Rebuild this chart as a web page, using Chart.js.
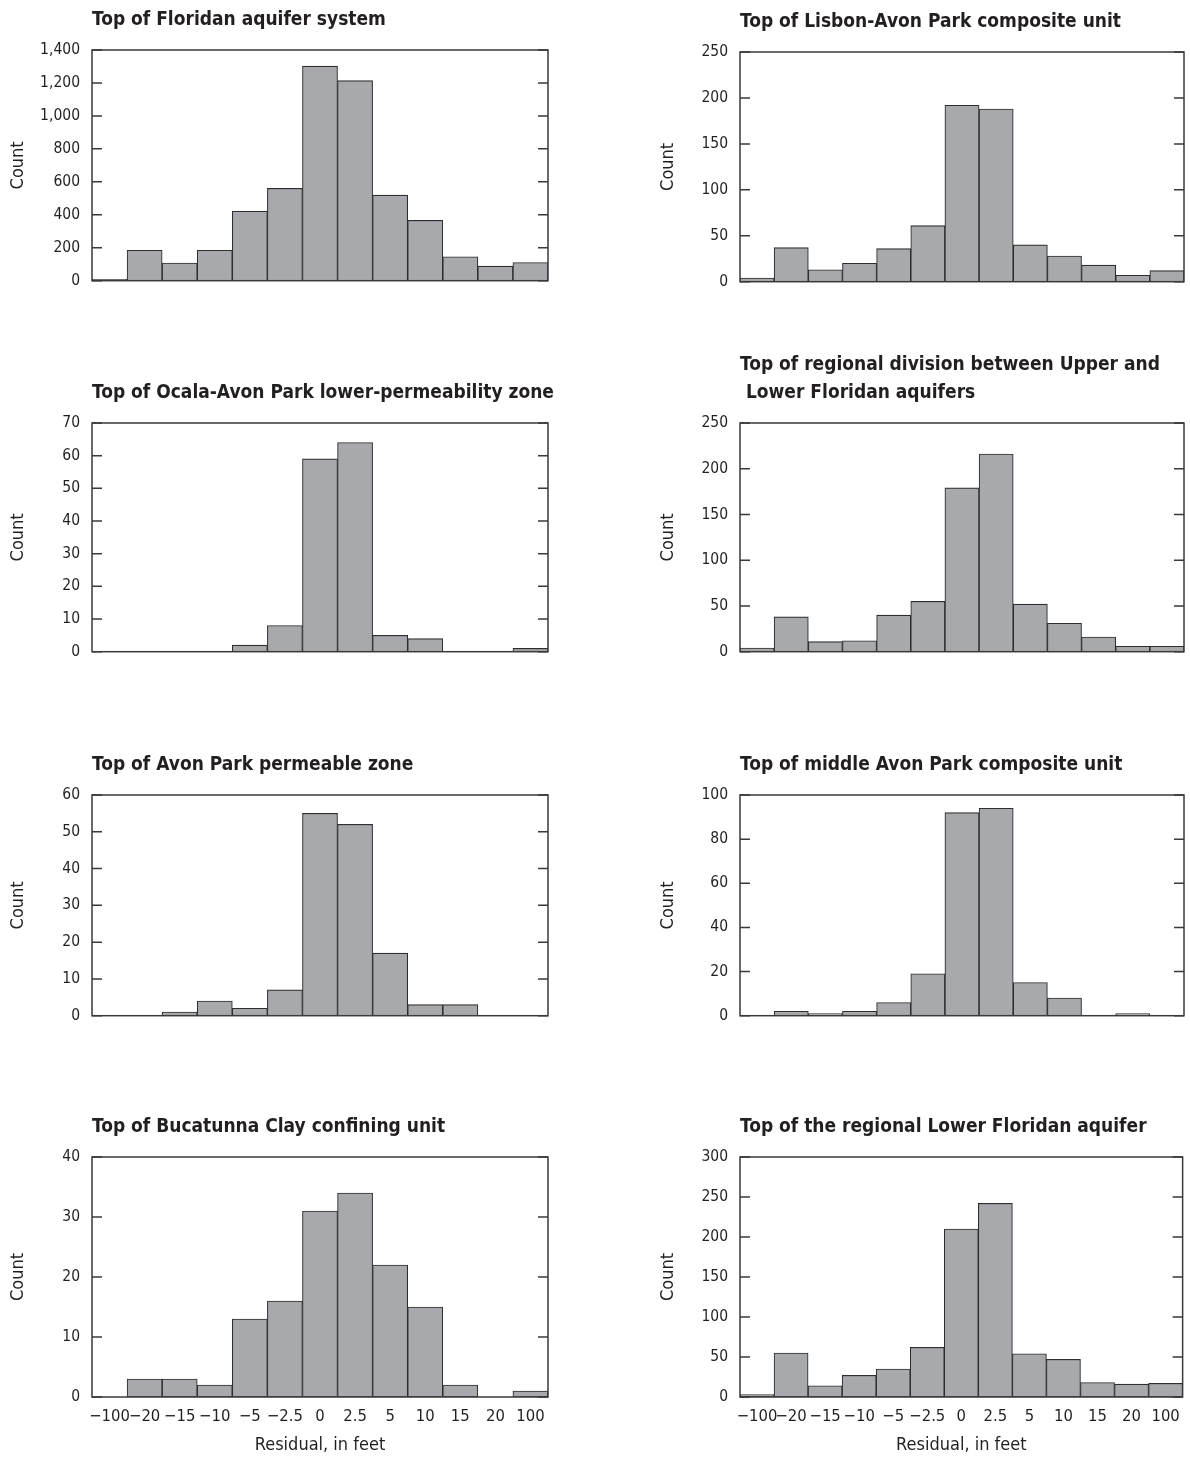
<!DOCTYPE html>
<html lang="en">
<head>
  <meta charset="UTF-8" />
  <title>Residual histograms</title>
  <script src="https://cdn.jsdelivr.net/npm/chart.js"></script>
  <style>
    body { margin: 0; background: #fff; }
    #page { position: relative; width: 1190px; height: 1458px; overflow: hidden; }
    canvas { position: absolute; }
  </style>
</head>
<body>
  <div id="page"></div>

  <script>
    // bin labels (residual, in feet)
    const binLabels = ['\u2212100', '\u221220', '\u221215', '\u221210', '\u22125', '\u22122.5', '0', '2.5', '5', '10', '15', '20', '100'];

    // counts per bin
    const floridanTop        = [8, 185, 107, 185, 421, 560, 1302, 1214, 519, 366, 145, 88, 110];
    const lisbonAvonPark     = [4, 37, 13, 20, 36, 61, 192, 188, 40, 28, 18, 7, 12];
    const ocalaAvonPark      = [0, 0, 0, 0, 2, 8, 59, 64, 5, 4, 0, 0, 1];
    const upperLowerDivision = [4, 38, 11, 12, 40, 55, 179, 216, 52, 31, 16, 6, 6];
    const avonParkPermeable  = [0, 0, 1, 4, 2, 7, 55, 52, 17, 3, 3, 0, 0];
    const middleAvonPark     = [0, 2, 1, 2, 6, 19, 92, 94, 15, 8, 0, 1, 0];
    const bucatunnaClay      = [0, 3, 3, 2, 13, 16, 31, 34, 22, 15, 2, 0, 1];
    const lowerFloridan      = [3, 55, 14, 27, 35, 62, 210, 242, 54, 47, 18, 16, 17];

    const FONT = "'Liberation Sans Narrow', 'DejaVu Sans Condensed', Roboto, sans-serif";
    const INK = '#231f20';

    // left / right column geometry
    const cols = [
      { left: 0,   width: 600, axisW: 92, padRight: 52 },
      { left: 650, width: 540, axisW: 90, padRight: 6 }
    ];

    const panels = [
      { title: ['Top of Floridan aquifer system'], data: floridanTop, max: 1400, step: 200, col: 0, top: 50, bottom: 290 },
      { title: ['Top of Lisbon-Avon Park composite unit'], data: lisbonAvonPark, max: 250, step: 50, col: 1, top: 52, bottom: 291 },
      { title: ['Top of Ocala-Avon Park lower-permeability zone'], data: ocalaAvonPark, max: 70, step: 10, col: 0, top: 423, bottom: 661 },
      { title: ['Top of regional division between Upper and', ' Lower Floridan aquifers'], data: upperLowerDivision, max: 250, step: 50, col: 1, top: 423, bottom: 661 },
      { title: ['Top of Avon Park permeable zone'], data: avonParkPermeable, max: 60, step: 10, col: 0, top: 795, bottom: 1025 },
      { title: ['Top of middle Avon Park composite unit'], data: middleAvonPark, max: 100, step: 20, col: 1, top: 795, bottom: 1025 },
      { title: ['Top of Bucatunna Clay confining unit'], data: bucatunnaClay, max: 40, step: 10, col: 0, top: 1157, bottom: 1397, xAxis: true },
      { title: ['Top of the regional Lower Floridan aquifer'], data: lowerFloridan, max: 300, step: 50, col: 1, top: 1157, bottom: 1397, xAxis: true }
    ];

    // box round the plot area plus inward ticks on both sides
    const frameTicks = {
      id: 'frameTicks',
      afterDatasetsDraw(chart) {
        const { ctx, chartArea: a, scales: { y } } = chart;
        ctx.save();
        ctx.strokeStyle = '#3a3a3a';
        ctx.lineWidth = 1.5;
        ctx.strokeRect(a.left, a.top, a.right - a.left, a.bottom - a.top);
        ctx.beginPath();
        y.ticks.forEach(t => {
          const py = y.getPixelForValue(t.value);
          ctx.moveTo(a.left, py); ctx.lineTo(a.left + 10, py);
          ctx.moveTo(a.right, py); ctx.lineTo(a.right - 10, py);
        });
        ctx.stroke();
        ctx.restore();
      }
    };

    // panel heading, left-aligned on the plot box and allowed to run past it
    function headingPlugin(lines) {
      return {
        id: 'heading',
        afterDraw(chart) {
          const { ctx, chartArea: a } = chart;
          ctx.save();
          ctx.font = 'bold 19px ' + FONT;
          ctx.fillStyle = INK;
          ctx.textAlign = 'left';
          ctx.textBaseline = 'middle';
          lines.forEach((line, i) => {
            ctx.fillText(line, a.left, a.top - 30 - (lines.length - 1 - i) * 28);
          });
          ctx.restore();
        }
      };
    }

    const page = document.getElementById('page');

    panels.forEach(p => {
      const col = cols[p.col];
      const titleH = p.title.length * 28 + 16;
      const top = p.top - titleH;
      const height = p.xAxis ? 1458 - top : p.bottom + 12 - top;

      const canvas = document.createElement('canvas');
      canvas.width = col.width;
      canvas.height = height;
      canvas.style.left = col.left + 'px';
      canvas.style.top = top + 'px';
      page.appendChild(canvas);

      new Chart(canvas, {
        type: 'bar',
        data: {
          labels: binLabels,
          datasets: [{
            data: p.data,
            backgroundColor: '#a7a9ac',
            borderColor: '#2e2e2e',
            borderWidth: 1.1,
            borderSkipped: false,
            categoryPercentage: 1,
            barPercentage: 1
          }]
        },
        options: {
          responsive: false,
          animation: false,
          layout: { padding: { top: titleH, left: 0, right: col.padRight, bottom: p.xAxis ? 0 : 12 } },
          plugins: {
            legend: { display: false },
            tooltip: { enabled: false },
            title: { display: false }
          },
          scales: {
            x: {
              grid: { display: false, drawTicks: false },
              border: { display: false },
              ticks: {
                display: !!p.xAxis,
                autoSkip: false,
                maxRotation: 0,
                padding: 10,
                color: INK,
                font: { family: FONT, size: 16.5 }
              },
              title: {
                display: !!p.xAxis,
                text: 'Residual, in feet',
                color: INK,
                font: { family: FONT, size: 18 },
                padding: { top: 0, bottom: 2 }
              },
              afterFit: s => { s.height = p.xAxis ? 61 : 0; }
            },
            y: {
              min: 0,
              max: p.max,
              grid: { display: false, drawTicks: false },
              border: { display: false },
              ticks: {
                stepSize: p.step,
                padding: 12,
                color: INK,
                font: { family: FONT, size: 15.5 }
              },
              title: {
                display: true,
                text: 'Count',
                color: INK,
                font: { family: FONT, size: 18 },
                padding: { top: 8, bottom: 0 }
              },
              afterFit: s => { s.width = col.axisW; }
            }
          }
        },
        plugins: [frameTicks, headingPlugin(p.title)]
      });
    });
  </script>
</body>
</html>
